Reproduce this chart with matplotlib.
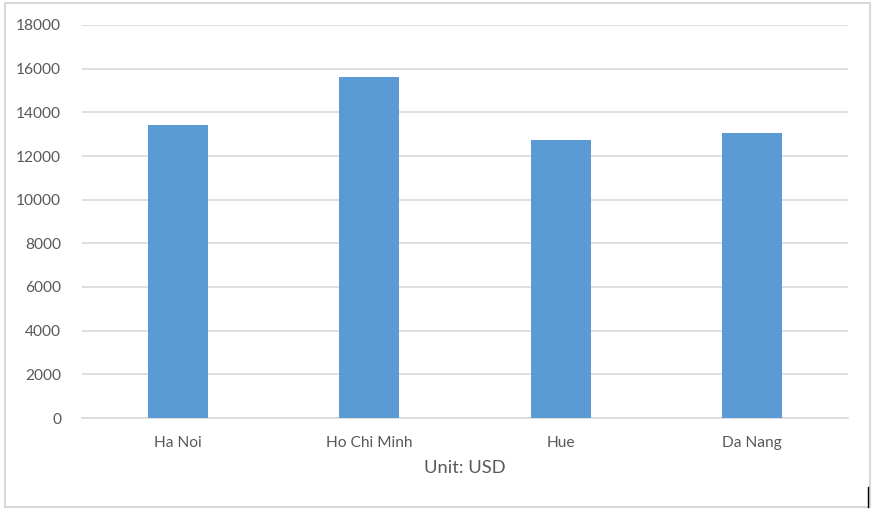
import matplotlib.pyplot as plt
from matplotlib.patches import Rectangle

# Datos
ciudades = ['Ha Noi', 'Ho Chi Minh', 'Hue', 'Da Nang']
ingresos = [13400, 15620, 12750, 13070]
ticks_y = [0, 2000, 4000, 6000, 8000, 10000, 12000, 14000, 16000, 18000]

plt.rcParams['font.family'] = ['Lato', 'DejaVu Sans']
gris_texto = '#595959'
gris_linea = '#D9D9D9'

fig = plt.figure(figsize=(8.77, 5.12), dpi=100)
ax = fig.add_axes([82 / 877, 94 / 512, 766 / 877, 393 / 512])

ax.bar(range(len(ciudades)), ingresos, width=0.315, color='#5B9BD5', zorder=3)

ax.set_xlim(-0.5, len(ciudades) - 0.5)
ax.set_ylim(0, 18000)
ax.set_yticks(ticks_y)
ax.set_yticklabels([str(v) for v in ticks_y])
ax.set_xticks(range(len(ciudades)))
ax.set_xticklabels(ciudades)
ax.tick_params(axis='both', length=0, labelsize=11.2, colors=gris_texto)
ax.tick_params(axis='y', pad=15)
ax.tick_params(axis='x', pad=13)

ax.grid(axis='y', color=gris_linea, linewidth=1.2, zorder=0)
for lado in ['top', 'right', 'left']:
    ax.spines[lado].set_visible(False)
ax.spines['bottom'].set_color(gris_linea)
ax.spines['bottom'].set_linewidth(1.2)

ax.set_xlabel('Unit: USD', fontsize=13.2, color=gris_texto, labelpad=7)

# Marco exterior del gráfico
fig.patches.append(Rectangle((5 / 877, 5 / 512), 865 / 877, 504 / 512,
                             transform=fig.transFigure, fill=False,
                             edgecolor=gris_linea, linewidth=1.5))
# Pequeña marca negra en la esquina inferior derecha
fig.add_artist(plt.Line2D([868 / 877, 868 / 877], [5 / 512, 25 / 512],
                          transform=fig.transFigure, color='black', linewidth=1))

fig.savefig('out.png', dpi=100, facecolor='white')
